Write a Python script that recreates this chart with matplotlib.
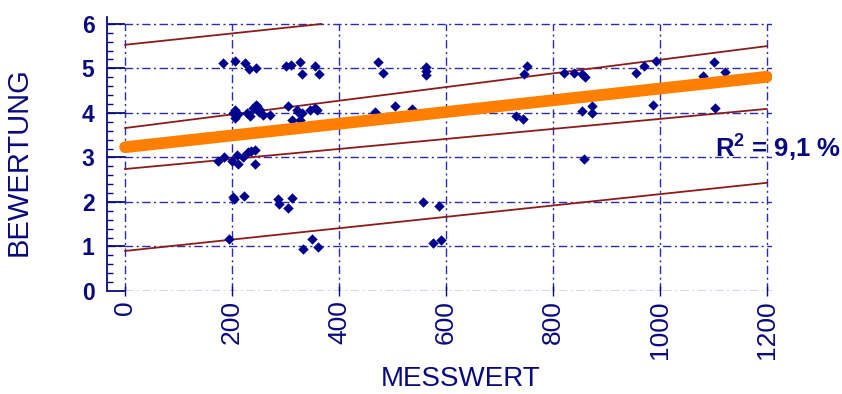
import numpy as np
import matplotlib
matplotlib.use("Agg")
from matplotlib import pyplot as plt

plt.rcParams['font.family'] = ['Liberation Sans', 'DejaVu Sans']
plt.rcParams['mathtext.fontset'] = 'custom'
plt.rcParams['mathtext.bf'] = 'Liberation Sans:bold'
plt.rcParams['mathtext.rm'] = 'Liberation Sans'

mess = [183, 206, 224, 232, 245, 300, 310, 327, 331, 355, 363, 473, 482,
        563, 563, 563, 746, 751, 821, 839, 854, 860, 955, 970, 993, 1080, 1101, 1121,
        206, 202, 206, 228, 239, 247, 252, 258, 271, 305, 312, 321, 327, 346, 355, 359,
        212, 234, 244, 250, 323, 330,
        467, 505, 536, 731, 744, 854, 873, 873, 987, 1103,
        174, 185, 200, 209, 212, 220, 230, 236, 243, 243, 858,
        202, 203, 222, 286, 288, 305, 312, 557, 587,
        194, 333, 350, 361, 576, 591]
bewertung = [5.12, 5.17, 5.12, 4.99, 5.01, 5.06, 5.08, 5.15, 4.88, 5.06, 4.88, 5.15, 4.90,
             5.03, 4.94, 4.85, 4.88, 5.06, 4.90, 4.90, 4.88, 4.81, 4.90, 5.06, 5.17, 4.83, 5.15, 4.92,
             4.07, 4.00, 3.89, 4.00, 4.11, 4.16, 4.07, 3.96, 3.96, 4.16, 3.84, 4.07, 3.84, 4.07, 4.11, 4.07,
             3.98, 3.93, 4.18, 4.02, 4.02, 4.00,
             4.02, 4.16, 4.09, 3.93, 3.87, 4.04, 4.16, 4.00, 4.18, 4.11,
             2.92, 3.01, 2.92, 3.06, 2.85, 3.00, 3.12, 3.14, 3.17, 2.85, 2.97,
             2.11, 2.07, 2.13, 2.07, 1.96, 1.87, 2.09, 2.00, 1.91,
             1.17, 0.94, 1.17, 0.99, 1.08, 1.15]

# Regressionsgerade und Bänder: (Wert bei 0, Wert bei 1200)
regression = (3.23, 4.81)
konfidenz_oben = (3.66, 5.50)
konfidenz_unten = (2.74, 4.09)
prognose_oben = (5.53, 7.06)
prognose_unten = (0.90, 2.43)

x_ticks = [0, 200, 400, 600, 800, 1000, 1200]
y_ticks = [0, 1, 2, 3, 4, 5, 6]

navy = '#0a0a80'
grid_col = '#2b2bb0'
band_col = '#8b1c1c'

fig = plt.figure(figsize=(8.42, 3.94), dpi=100)
ax = fig.add_axes([0.127, 0.2614, 0.79, 0.695])
ax.set_xlim(-34, 1210)
ax.set_ylim(0, 6.15)

# Gitter
dashdot = (0, (6, 2.5, 1.5, 2.5))
for yv in y_ticks:
    ax.axhline(yv, color=grid_col, lw=1, ls=dashdot, zorder=1)
ax.vlines(x_ticks, 0, 6, color=grid_col, lw=1, linestyles=[dashdot], zorder=1)

xs = np.linspace(0, 1200, 400)


def gerade(p):
    y = p[0] + (p[1] - p[0]) * xs / 1200
    return np.where(y > 6, np.nan, y)


for band in [konfidenz_oben, konfidenz_unten, prognose_oben, prognose_unten]:
    ax.plot(xs, gerade(band), color=band_col, lw=1.3, zorder=3)

ax.scatter(mess, bewertung, marker='D', s=28, color='#00008f', zorder=4, linewidths=0)

ax.plot(xs, gerade(regression), color='#ff8000', lw=8.5, solid_capstyle='round', zorder=5)

# Achsen
for s in ['top', 'right', 'bottom']:
    ax.spines[s].set_visible(False)
ax.spines['left'].set_color(navy)
ax.spines['left'].set_linewidth(1.3)

ax.set_yticks(y_ticks)
ax.set_yticks(np.arange(0, 6.01, 0.2), minor=True)
ax.tick_params(axis='y', which='major', direction='in', length=13, width=1.3,
               color=navy, pad=9, labelsize=16.5, labelcolor=navy)
ax.tick_params(axis='y', which='minor', direction='in', length=4, width=1, color=navy)
for lab in ax.get_yticklabels():
    lab.set_fontweight('bold')

ax.set_xticks(x_ticks)
ax.set_xticklabels([str(v) for v in x_ticks], rotation=90)
ax.tick_params(axis='x', direction='inout', length=7, width=1, color=navy,
               pad=3, labelsize=19, labelcolor=navy)

ax.set_xlabel('MESSWERT', fontsize=20, color=navy)
ax.xaxis.set_label_coords(0.531, -0.275)
ax.set_ylabel('BEWERTUNG', fontsize=21, color=navy)
ax.yaxis.set_label_coords(-0.111, 0.474)

fig.text(0.849, 0.601, r'$\mathbf{R^2}$ = 9,1 %', fontsize=18.5, fontweight='bold',
         color=navy, va='baseline', ha='left')

fig.savefig('out.png', dpi=100)
